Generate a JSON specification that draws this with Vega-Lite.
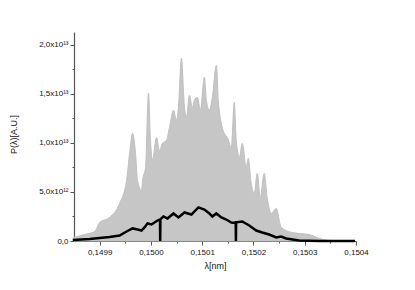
{
  "$schema": "https://vega.github.io/schema/vega-lite/v6.json",
  "width": 282,
  "height": 209,
  "autosize": {"type": "none"},
  "padding": {"left": 74, "top": 32, "right": 59, "bottom": 49},
  "background": "white",
  "config": {
    "view": {"stroke": null},
    "font": "Liberation Sans",
    "axis": {
      "domainColor": "#555555",
      "domainWidth": 1.2,
      "tickColor": "#555555",
      "tickWidth": 1,
      "grid": false,
      "labelFont": "Liberation Sans",
      "labelFontSize": 8,
      "labelColor": "#111111",
      "labelOverlap": false,
      "labelFlush": false,
      "titleFont": "Liberation Sans",
      "titleFontSize": 9,
      "titleFontWeight": "normal",
      "titleColor": "#111111"
    }
  },
  "datasets": {
    "envelope": [
      {"lambda": 0.149849, "P": 0.036},
      {"lambda": 0.1498708, "P": 0.066},
      {"lambda": 0.1498903, "P": 0.097},
      {"lambda": 0.1499, "P": 0.189},
      {"lambda": 0.1499195, "P": 0.24},
      {"lambda": 0.1499389, "P": 0.383},
      {"lambda": 0.1499525, "P": 0.617},
      {"lambda": 0.1499584, "P": 0.893},
      {"lambda": 0.1499642, "P": 1.097},
      {"lambda": 0.14997, "P": 0.893},
      {"lambda": 0.1499739, "P": 0.617},
      {"lambda": 0.1499817, "P": 0.515},
      {"lambda": 0.1499837, "P": 0.617},
      {"lambda": 0.1499895, "P": 0.75},
      {"lambda": 0.1499953, "P": 1.505},
      {"lambda": 0.1499992, "P": 1.026},
      {"lambda": 0.1500031, "P": 0.821},
      {"lambda": 0.1500109, "P": 1.056},
      {"lambda": 0.1500167, "P": 0.923},
      {"lambda": 0.1500226, "P": 0.995},
      {"lambda": 0.1500304, "P": 1.026},
      {"lambda": 0.1500362, "P": 1.158},
      {"lambda": 0.150044, "P": 1.332},
      {"lambda": 0.1500498, "P": 1.23},
      {"lambda": 0.1500537, "P": 1.362},
      {"lambda": 0.1500595, "P": 1.862},
      {"lambda": 0.1500654, "P": 1.362},
      {"lambda": 0.1500693, "P": 1.26},
      {"lambda": 0.1500751, "P": 1.485},
      {"lambda": 0.1500809, "P": 1.362},
      {"lambda": 0.1500848, "P": 1.434},
      {"lambda": 0.1500906, "P": 1.464},
      {"lambda": 0.1500965, "P": 1.332},
      {"lambda": 0.1501043, "P": 1.668},
      {"lambda": 0.1501082, "P": 1.434},
      {"lambda": 0.150114, "P": 1.332},
      {"lambda": 0.1501198, "P": 1.464},
      {"lambda": 0.1501276, "P": 1.791},
      {"lambda": 0.1501315, "P": 1.434},
      {"lambda": 0.1501374, "P": 1.199},
      {"lambda": 0.1501432, "P": 1.097},
      {"lambda": 0.150149, "P": 1.056},
      {"lambda": 0.1501568, "P": 0.954},
      {"lambda": 0.1501626, "P": 1.413},
      {"lambda": 0.1501665, "P": 1.026},
      {"lambda": 0.1501724, "P": 0.852},
      {"lambda": 0.1501782, "P": 0.995},
      {"lambda": 0.150186, "P": 0.75},
      {"lambda": 0.1501899, "P": 0.842},
      {"lambda": 0.1501957, "P": 0.587},
      {"lambda": 0.1502016, "P": 0.485},
      {"lambda": 0.1502074, "P": 0.689},
      {"lambda": 0.1502132, "P": 0.444},
      {"lambda": 0.150221, "P": 0.689},
      {"lambda": 0.1502268, "P": 0.444},
      {"lambda": 0.1502346, "P": 0.281},
      {"lambda": 0.1502444, "P": 0.332},
      {"lambda": 0.1502541, "P": 0.138},
      {"lambda": 0.1502755, "P": 0.087},
      {"lambda": 0.1502891, "P": 0.077},
      {"lambda": 0.1503086, "P": 0.066},
      {"lambda": 0.150328, "P": 0.026},
      {"lambda": 0.1503533, "P": 0.005},
      {"lambda": 0.1503981, "P": 0.0}
    ],
    "mean": [
      {"lambda": 0.1498475, "P": 0.01},
      {"lambda": 0.1498805, "P": 0.02},
      {"lambda": 0.1499, "P": 0.031},
      {"lambda": 0.1499195, "P": 0.041},
      {"lambda": 0.1499389, "P": 0.056},
      {"lambda": 0.1499525, "P": 0.097},
      {"lambda": 0.1499642, "P": 0.128},
      {"lambda": 0.1499739, "P": 0.117},
      {"lambda": 0.1499817, "P": 0.107},
      {"lambda": 0.1499875, "P": 0.138},
      {"lambda": 0.1499934, "P": 0.179},
      {"lambda": 0.1500012, "P": 0.168},
      {"lambda": 0.150007, "P": 0.189},
      {"lambda": 0.1500128, "P": 0.209},
      {"lambda": 0.1500177, "P": 0.219},
      {"lambda": 0.1500181, "P": 0.0},
      {"lambda": 0.1500185, "P": 0.22},
      {"lambda": 0.1500245, "P": 0.25},
      {"lambda": 0.1500323, "P": 0.23},
      {"lambda": 0.150044, "P": 0.281},
      {"lambda": 0.1500537, "P": 0.24},
      {"lambda": 0.1500654, "P": 0.291},
      {"lambda": 0.150079, "P": 0.27},
      {"lambda": 0.1500926, "P": 0.342},
      {"lambda": 0.1501043, "P": 0.321},
      {"lambda": 0.150114, "P": 0.281},
      {"lambda": 0.1501198, "P": 0.25},
      {"lambda": 0.1501276, "P": 0.281},
      {"lambda": 0.1501374, "P": 0.24},
      {"lambda": 0.1501471, "P": 0.219},
      {"lambda": 0.1501568, "P": 0.189},
      {"lambda": 0.1501654, "P": 0.184},
      {"lambda": 0.1501658, "P": 0.0},
      {"lambda": 0.1501662, "P": 0.19},
      {"lambda": 0.1501782, "P": 0.199},
      {"lambda": 0.1501918, "P": 0.158},
      {"lambda": 0.1502054, "P": 0.107},
      {"lambda": 0.1502171, "P": 0.087},
      {"lambda": 0.1502307, "P": 0.066},
      {"lambda": 0.1502444, "P": 0.036},
      {"lambda": 0.1502541, "P": 0.046},
      {"lambda": 0.1502638, "P": 0.026},
      {"lambda": 0.1502891, "P": 0.005},
      {"lambda": 0.150328, "P": 0.0},
      {"lambda": 0.150398, "P": 0.0}
    ]
  },
  "encoding": {
    "x": {
      "field": "lambda",
      "type": "quantitative",
      "scale": {"domain": [0.14985, 0.1504], "nice": false, "zero": false},
      "axis": {
        "title": "λ[nm]",
        "values": [0.1499, 0.14995, 0.15, 0.15005, 0.1501, 0.15015, 0.1502, 0.15025, 0.1503, 0.15035, 0.1504],
        "labelExpr": "abs(datum.value*10000 - round(datum.value*10000)) < 0.01 ? replace(format(datum.value, '.4f'), '.', ',') : ''",
        "tickSize": {"condition": {"test": "abs(datum.value*10000 - round(datum.value*10000)) < 0.01", "value": 4}, "value": 2},
        "labelPadding": 3,
        "titleX": 141,
        "titleY": 24,
        "titleBaseline": "middle"
      }
    },
    "y": {
      "field": "P",
      "type": "quantitative",
      "scale": {"domain": [0, 2.13], "nice": false},
      "axis": {
        "title": "P(λ)[A.U.]",
        "values": [0, 0.25, 0.5, 0.75, 1, 1.25, 1.5, 1.75, 2],
        "labelExpr": "datum.value == 0 ? '0,0' : datum.value == 0.5 ? '5,0x10¹²' : datum.value == 1 ? '1,0x10¹³' : datum.value == 1.5 ? '1,5x10¹³' : datum.value == 2 ? '2,0x10¹³' : ''",
        "tickSize": {"condition": {"test": "datum.value * 2 == round(datum.value * 2)", "value": 4}, "value": 2},
        "labelPadding": 2,
        "titleX": -61,
        "titleY": 102,
        "titleAngle": -90,
        "titleAlign": "center",
        "titleBaseline": "middle"
      }
    }
  },
  "layer": [
    {
      "data": {"name": "envelope"},
      "mark": {"type": "area", "color": "#c6c6c6", "stroke": "#c0c0c0", "strokeWidth": 1, "interpolate": "monotone"}
    },
    {
      "data": {"name": "mean"},
      "mark": {"type": "line", "color": "#000000", "strokeWidth": 2.5, "strokeJoin": "miter"}
    }
  ]
}
